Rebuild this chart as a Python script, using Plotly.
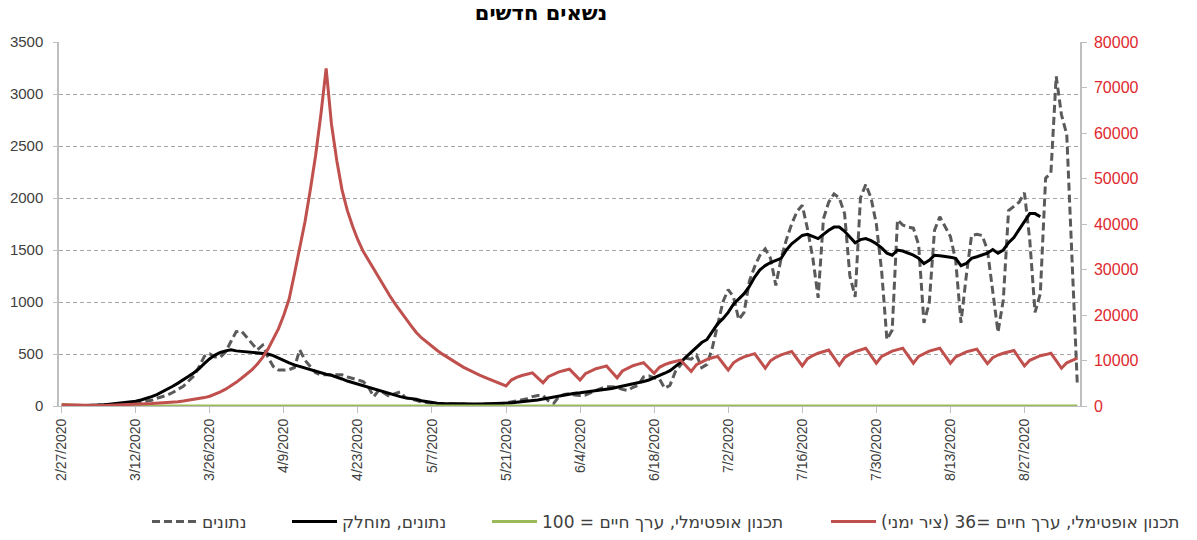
import pandas as pd
import plotly.graph_objects as go

start_date = "2020-02-27"

# daily new cases (dashed gray), day 0 = 2/27/2020
cases = [0, 1, 0, 1, 2, 3, 5, 3, 7, 10, 13, 15, 25, 22, 30, 35, 45, 55, 75, 90,
         105, 130, 160, 190, 240, 290, 380, 480, 500, 470, 470, 520, 620, 715, 720, 660, 600, 540, 585, 470,
         380, 345, 345, 350, 370, 540, 440, 380, 320, 300, 300, 300, 300, 300, 280, 265, 250, 235, 180, 90,
         155, 120, 90, 120, 135, 80, 70, 55, 40, 35, 30, 20, 25, 20, 15, 15, 20, 12, 15, 18,
         20, 15, 25, 20, 30, 35, 45, 60, 70, 90, 100, 100, 50, 25, 90, 110, 120, 105, 100, 105,
         130, 150, 170, 185, 185, 180, 160, 150, 180, 200, 280, 290, 270, 260, 170, 200, 330, 400, 460, 450,
         490, 370, 400, 560, 770, 1000, 1120, 1050, 830, 900, 1200, 1340, 1450, 1510, 1420, 1160, 1420, 1600, 1750, 1870,
         1930, 1700, 1420, 1040, 1800, 1960, 2040, 2000, 1850, 1250, 1050, 2000, 2130, 2000, 1750, 1300, 640, 730, 1790, 1740,
         1720, 1710, 1550, 800, 990, 1690, 1820, 1720, 1630, 1400, 800, 1250, 1640, 1650, 1640, 1500, 1100, 710, 1020, 1880,
         1920, 1960, 2050, 1600, 900, 1080, 2190, 2240, 3170, 2800, 2610, 1450, 200]

# smoothed cases (black), starting 3/1/2020
smoothed_start = "2020-03-01"
smoothed = [1, 2, 3, 5, 8, 12, 17, 22, 28, 33, 38, 45, 58, 72, 90, 110, 135,
            160, 190, 220, 250, 285, 320, 360, 410, 455, 490, 515, 530, 540, 530, 525, 520, 515, 510, 505, 500,
            485, 460, 440, 415, 395, 380, 360, 345, 330, 320, 305, 295, 280, 260, 240, 225, 205, 190, 175, 160,
            145, 135, 120, 105, 90, 78, 72, 65, 50, 40, 32, 27, 24, 22, 20, 20, 19, 19, 19, 19,
            20, 21, 22, 24, 26, 30, 35, 40, 46, 52, 58, 68, 78, 88, 98, 106, 114, 122, 127, 133,
            138, 145, 152, 160, 168, 180, 190, 200, 210, 222, 235, 250, 270, 290, 315, 340, 380, 420, 470, 520,
            570, 610, 640, 720, 790, 840, 900, 980, 1030, 1080, 1150, 1240, 1310, 1350, 1380, 1400, 1420, 1500, 1560, 1600,
            1640, 1650, 1630, 1610, 1650, 1690, 1720, 1720, 1680, 1620, 1570, 1600, 1610, 1590, 1560, 1520, 1470, 1450, 1500, 1490,
            1470, 1450, 1420, 1370, 1400, 1450, 1445, 1440, 1430, 1420, 1350, 1370, 1420, 1435, 1450, 1470, 1505, 1470, 1500, 1570,
            1620, 1700, 1780, 1850, 1850, 1820]

# optimal plan, value of life = 100 (green, left axis)
plan_100 = [15, 12, 8, 4, 2, 1, 0, 0, 0, 0, 0, 0, 0, 0, 0, 0, 0, 0, 3, 5,
            6, 7, 7, 7, 6, 5, 4, 2, 1, 0, 0, 0, 0, 0, 0, 0, 0, 0, 0, 0,
            0, 0, 0, 0, 0, 0, 0, 0, 0, 0, 0, 0, 0, 0, 0, 0, 0, 0, 0, 0,
            0, 0, 0, 0, 0, 0, 0, 0, 0, 0, 0, 0, 0, 0, 0, 0, 0, 0, 0, 0,
            0, 0, 0, 0, 0, 0, 0, 0, 0, 0, 0, 0, 0, 0, 0, 0, 0, 0, 0, 0,
            0, 0, 0, 0, 0, 0, 0, 0, 0, 0, 0, 0, 0, 0, 0, 0, 0, 0, 0, 0,
            0, 0, 0, 0, 0, 0, 0, 0, 0, 0, 0, 0, 0, 0, 0, 0, 0, 0, 0, 0,
            0, 0, 0, 0, 0, 0, 0, 0, 0, 0, 0, 0, 0, 0, 0, 0, 0, 0, 0, 0,
            0, 0, 0, 0, 0, 0, 0, 0, 0, 0, 0, 0, 0, 0, 0, 0, 0, 0, 0, 0,
            0, 0, 0, 0, 0, 0, 0, 0, 0, 0, 0, 0, 0]

# optimal plan, value of life = 36 (red, right axis)
plan_36 = [300, 250, 200, 150, 120, 100, 100, 100, 120, 150, 200, 250, 300, 350, 400, 450, 500, 550, 600, 650,
           750, 850, 950, 1100, 1250, 1400, 1600, 1850, 2150, 2600, 3100, 3700, 4400, 5200, 6100, 7000, 8000, 9200, 10700, 12500,
           14600, 17000, 20000, 23500, 29000, 34500, 40500, 47500, 55000, 64000, 74200, 62000, 54000, 47500, 43000, 39500, 36500, 34000, 32000, 30000,
           28000, 26000, 24300, 22500, 21000, 19300, 17700, 16200, 15000, 14000, 13000, 12200, 11400, 10600, 9900, 9200, 8500, 7900, 7300, 6800,
           6300, 5800, 5300, 4900, 4400, 5700, 6300, 6700, 7000, 7300, 6200, 5100, 6450, 7050, 7500, 7800, 8100, 6900, 5700, 7100,
           7700, 8200, 8500, 8800, 7500, 6200, 7700, 8350, 8850, 9200, 9500, 8350, 7200, 8500, 9100, 9500, 9800, 10100, 8850, 7600,
           9100, 9750, 10250, 10600, 10900, 9400, 7900, 9500, 10250, 10800, 11150, 11500, 9900, 8300, 9950, 10700, 11250, 11650, 12000, 10400,
           8800, 10400, 11100, 11600, 11950, 12300, 10650, 9000, 10650, 11400, 11950, 12350, 12700, 11050, 9400, 10900, 11550, 12050, 12400, 12700,
           11050, 9400, 10900, 11550, 12050, 12400, 12700, 11050, 9400, 10800, 11400, 11900, 12200, 12500, 10900, 9300, 10600, 11200, 11600, 11900,
           12200, 10500, 8800, 10050, 10600, 11050, 11300, 11600, 9950, 8300, 9500, 10000, 10500]

tick_dates = ["2020-02-27", "2020-03-12", "2020-03-26", "2020-04-09", "2020-04-23", "2020-05-07", "2020-05-21",
              "2020-06-04", "2020-06-18", "2020-07-02", "2020-07-16", "2020-07-30", "2020-08-13", "2020-08-27"]
tick_labels = ["2/27/2020", "3/12/2020", "3/26/2020", "4/9/2020", "4/23/2020", "5/7/2020", "5/21/2020",
               "6/4/2020", "6/18/2020", "7/2/2020", "7/16/2020", "7/30/2020", "8/13/2020", "8/27/2020"]

names = ["נתונים", "נתונים, מוחלק", "תכנון אופטימלי, ערך חיים = 100",
         "תכנון אופטימלי, ערך חיים =36 (ציר ימני)\u200f"]

dates_all = pd.date_range(start_date, periods=len(cases), freq="D")
dates_smooth = pd.date_range(smoothed_start, periods=len(smoothed), freq="D")

FONT = "Liberation Sans, Arial, DejaVu Sans, sans-serif"
LEGFONT = "DejaVu Sans, Liberation Sans, sans-serif"
TXT = "#404040"

fig = go.Figure()
fig.add_trace(go.Scatter(x=dates_all, y=cases, mode="lines", name=names[0], showlegend=True,
                         line=dict(color="#5a5a5a", width=3, dash="8px,4px"), legend="legend"))
fig.add_trace(go.Scatter(x=dates_smooth, y=smoothed, mode="lines", name=names[1], showlegend=True,
                         line=dict(color="#000000", width=3), legend="legend2"))
fig.add_trace(go.Scatter(x=dates_all, y=plan_100, mode="lines", name=names[2], showlegend=True,
                         line=dict(color="#9bbb59", width=3), legend="legend3"))
fig.add_trace(go.Scatter(x=dates_all, y=plan_36, mode="lines", name=names[3], yaxis="y2", showlegend=True,
                         line=dict(color="#c0504d", width=3), legend="legend4"))

leg_common = dict(orientation="h", y=-0.3187, yanchor="middle", xanchor="left",
                  font=dict(family=LEGFONT, size=17, color=TXT), bgcolor="rgba(0,0,0,0)",
                  borderwidth=0, tracegroupgap=0, itemwidth=45)
pw = 1021.0
fig.update_layout(
    width=1197, height=540,
    showlegend=True,
    margin=dict(l=59, r=117, t=42, b=134, autoexpand=False),
    paper_bgcolor="white", plot_bgcolor="white",
    font=dict(family=FONT, color=TXT),
    title=dict(text="<b>נשאים חדשים</b>", x=541 / 1197, xanchor="center", xref="container",
               y=1 - 13 / 540, yanchor="middle", yref="container",
               font=dict(family="DejaVu Sans, sans-serif", size=21, color="#000000")),
    xaxis=dict(type="date", range=["2020-02-26 12:00", "2020-09-06 12:00"],
               tickmode="array", tickvals=tick_dates, ticktext=tick_labels, tickangle=-90,
               ticks="outside", ticklen=6, tickcolor="#bfbfbf", showline=True, linecolor="#bfbfbf",
               linewidth=1, showgrid=False, zeroline=False,
               tickfont=dict(family=FONT, size=14, color=TXT)),
    yaxis=dict(range=[0, 3500], dtick=500, showgrid=True, gridcolor="#a6a6a6", griddash="4px,3px",
               gridwidth=1, showline=True, linecolor="#bfbfbf", linewidth=1.5, ticks="outside",
               ticklen=4, tickcolor="#bfbfbf", zeroline=False, ticklabelstandoff=7,
               tickfont=dict(family=FONT, size=15, color=TXT)),
    yaxis2=dict(range=[0, 80000], dtick=10000, tickformat="d", overlaying="y", side="right", showgrid=False,
                showline=True, linecolor="#bfbfbf", linewidth=1.5, ticks="outside", ticklen=5,
                tickcolor="#bfbfbf", zeroline=False, ticklabelstandoff=4,
                tickfont=dict(family=FONT, size=16, color="#e0282e")),
    legend=dict(x=(147 - 59) / pw, **leg_common),
    legend2=dict(x=(287 - 59) / pw, **leg_common),
    legend3=dict(x=(487 - 59) / pw, **leg_common),
    legend4=dict(x=(826 - 59) / pw, **leg_common),
)

fig.write_html("out.html")
